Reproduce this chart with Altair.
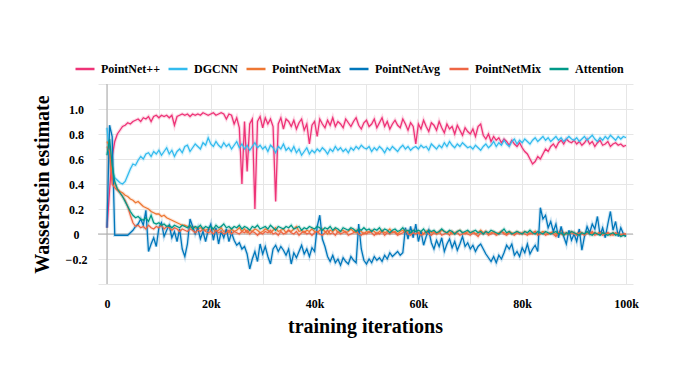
import altair as alt
import pandas as pd

# iteration grid in thousands (every 0.5k from 0 to 100k)
iters_k = [i * 0.5 for i in range(201)]

series_names = ["PointNet++", "DGCNN", "PointNetMax", "PointNetAvg", "PointNetMix", "Attention"]
series_colors = ["#EE3377", "#33BBEE", "#EE7733", "#0077BB", "#EE6644", "#009988"]

pointnetpp = [
    0.05, 0.35, 0.62, 0.74, 0.80, 0.83, 0.86, 0.87, 0.89, 0.88, 0.90, 0.91, 0.92, 0.90, 0.93, 0.92, 0.94, 0.90, 0.94, 0.95,
    0.93, 0.95, 0.94, 0.95, 0.93, 0.95, 0.87, 0.94, 0.95, 0.96, 0.95, 0.96, 0.94, 0.96, 0.95, 0.96, 0.95, 0.97, 0.96, 0.95,
    0.96, 0.97, 0.95, 0.96, 0.97, 0.96, 0.92, 0.96, 0.95, 0.88, 0.93, 0.85, 0.40, 0.90, 0.50, 0.88, 0.92, 0.20, 0.90, 0.94,
    0.85, 0.93, 0.88, 0.92, 0.86, 0.26, 0.88, 0.93, 0.84, 0.92, 0.90, 0.86, 0.91, 0.84, 0.89, 0.92, 0.83, 0.88, 0.72, 0.87,
    0.90, 0.78, 0.92, 0.88, 0.85, 0.91, 0.87, 0.93, 0.86, 0.90, 0.88, 0.85, 0.92, 0.89, 0.86, 0.90, 0.93, 0.87, 0.84, 0.89,
    0.91, 0.86, 0.88, 0.92, 0.85, 0.89, 0.93, 0.86, 0.90, 0.84, 0.88, 0.91, 0.87, 0.85, 0.92, 0.88, 0.83, 0.89, 0.86, 0.72,
    0.88, 0.84, 0.91, 0.86, 0.82, 0.89, 0.87, 0.83, 0.90, 0.85, 0.81, 0.88, 0.84, 0.86, 0.80, 0.87, 0.83, 0.79, 0.85, 0.82,
    0.80, 0.84, 0.78, 0.86, 0.88, 0.79, 0.76, 0.80, 0.74, 0.78, 0.75, 0.77, 0.73, 0.76, 0.74, 0.71, 0.75, 0.72, 0.70, 0.73,
    0.69, 0.66, 0.64, 0.60, 0.56, 0.58, 0.62, 0.60, 0.64, 0.68, 0.66, 0.70, 0.72, 0.69, 0.73, 0.75, 0.72, 0.76, 0.74, 0.73,
    0.75, 0.72, 0.74, 0.71, 0.73, 0.76, 0.72, 0.74, 0.70, 0.73, 0.75, 0.71, 0.72, 0.74, 0.70, 0.72, 0.73, 0.71, 0.72, 0.70,
    0.71,
]

dgcnn = [
    0.85, 0.62, 0.50, 0.45, 0.43, 0.41, 0.40, 0.42, 0.47, 0.52, 0.56, 0.55, 0.59, 0.62, 0.60, 0.64, 0.65, 0.62, 0.66, 0.64,
    0.67, 0.63, 0.66, 0.69, 0.64, 0.67, 0.62, 0.66, 0.68, 0.65, 0.70, 0.71, 0.66, 0.69, 0.72, 0.70, 0.68, 0.73, 0.71, 0.77,
    0.72, 0.70, 0.74, 0.71, 0.69, 0.73, 0.70, 0.72, 0.68, 0.71, 0.74, 0.69, 0.72, 0.68, 0.71, 0.67, 0.70, 0.73, 0.69, 0.71,
    0.68, 0.70, 0.66, 0.71, 0.69, 0.65, 0.70, 0.68, 0.72, 0.67, 0.69, 0.66, 0.70, 0.65, 0.68, 0.63, 0.66, 0.69, 0.64, 0.67,
    0.65, 0.68, 0.66, 0.69, 0.67, 0.64, 0.68, 0.66, 0.70, 0.67, 0.69, 0.66, 0.68, 0.65, 0.69, 0.67, 0.70, 0.68, 0.71, 0.69,
    0.68, 0.70, 0.66, 0.69, 0.67, 0.70, 0.68, 0.65, 0.69, 0.67, 0.70, 0.68, 0.66, 0.69, 0.71, 0.68, 0.70, 0.67, 0.69, 0.70,
    0.68, 0.71, 0.69, 0.70, 0.67, 0.72, 0.70, 0.68, 0.71, 0.69, 0.73, 0.70, 0.74, 0.71, 0.69, 0.72, 0.70, 0.73, 0.71, 0.69,
    0.70, 0.68, 0.71, 0.69, 0.67, 0.70, 0.72, 0.69, 0.71, 0.74, 0.70, 0.73, 0.71, 0.75, 0.72, 0.70, 0.74, 0.76, 0.72, 0.75,
    0.73, 0.76, 0.74, 0.72, 0.75, 0.77, 0.74, 0.76, 0.78, 0.75, 0.77, 0.74, 0.76, 0.78, 0.75, 0.77, 0.74, 0.76, 0.78, 0.76,
    0.75, 0.77, 0.74, 0.76, 0.78, 0.75, 0.77, 0.79, 0.76, 0.74, 0.77, 0.75, 0.78, 0.76, 0.79, 0.77, 0.75, 0.78, 0.76, 0.78,
    0.77,
]

pointnet_max = [
    0.74, 0.70, 0.45, 0.40, 0.36, 0.34, 0.33, 0.31, 0.30, 0.28, 0.27, 0.25, 0.26, 0.24, 0.22, 0.21, 0.20, 0.18, 0.17, 0.16,
    0.16, 0.14, 0.15, 0.13, 0.12, 0.11, 0.10, 0.09, 0.08, 0.07, 0.07, 0.06, 0.05, 0.06, 0.05, 0.04, 0.05, 0.04, 0.03, 0.04,
    0.03, 0.04, 0.02, 0.03, 0.05, 0.02, 0.03, 0.01, 0.04, 0.02, 0.03, 0.05, 0.02, 0.04, 0.01, 0.03, 0.02, 0.04, 0.03, 0.01,
    0.02, 0.04, 0.03, 0.01, 0.03, 0.05, 0.02, 0.03, 0.04, 0.01, 0.03, 0.02, 0.04, 0.06, 0.02, 0.03, 0.01, 0.03, 0.02, 0.04,
    0.02, 0.01, 0.03, 0.04, 0.02, 0.00, 0.03, 0.02, 0.04, 0.01, 0.02, 0.03, 0.01, 0.02, 0.04, 0.02, 0.01, 0.03, 0.02, 0.00,
    0.02, 0.01, 0.03, 0.02, 0.00, 0.02, 0.03, 0.01, 0.02, 0.04, 0.01, 0.02, 0.00, 0.02, 0.03, 0.01, 0.02, 0.01, 0.03, 0.02,
    0.01, 0.02, 0.00, 0.02, 0.03, 0.01, 0.02, 0.00, 0.01, 0.03, 0.02, 0.01, 0.02, 0.00, 0.01, 0.02, 0.03, 0.01, 0.00, 0.02,
    0.01, 0.02, 0.00, 0.01, 0.03, 0.01, 0.02, 0.00, 0.01, 0.02, 0.00, 0.01, 0.02, 0.01, 0.00, 0.02, 0.01, 0.00, 0.02, 0.01,
    0.00, 0.02, 0.01, 0.00, 0.01, 0.02, 0.00, 0.01, 0.02, 0.01, 0.00, 0.01, 0.02, 0.00, 0.01, 0.03, 0.01, 0.00, 0.01, 0.02,
    0.01, 0.00, 0.02, 0.01, 0.00, 0.01, 0.02, 0.00, 0.01, 0.00, 0.02, 0.01, 0.00, 0.01, -0.01, 0.01, 0.00, 0.01, -0.01, 0.00,
    -0.01,
]

pointnet_avg = [
    0.05, 0.87, 0.78, -0.01, -0.01, -0.01, -0.01, -0.01, -0.01, 0.01, 0.03, 0.06, 0.08, 0.12, 0.07, 0.19, -0.14, -0.08, -0.03, -0.10,
    0.05, 0.09, -0.02, 0.03, 0.07, -0.03, 0.02, -0.06, 0.04, -0.12, -0.18, -0.08, 0.12, 0.06, 0.00, 0.05, -0.04, 0.02, -0.06, 0.03,
    0.08, -0.05, 0.05, -0.08, 0.02, -0.03, 0.04, -0.06, 0.01, -0.05, -0.09, -0.07, -0.12, -0.10, -0.16, -0.28, -0.20, -0.14, -0.22, -0.08,
    -0.16, -0.10, -0.18, -0.24, -0.12, -0.09, -0.14, -0.10, -0.13, -0.17, -0.12, -0.24, -0.15, -0.19, -0.14, -0.09, -0.16, -0.12, -0.18, -0.11,
    -0.14, 0.06, 0.15, -0.04, -0.10, -0.18, -0.22, -0.17, -0.23, -0.20, -0.25, -0.19, -0.22, -0.24, -0.18, -0.21, -0.23, 0.08, -0.12, -0.21,
    -0.24, -0.20, -0.23, -0.18, -0.21, -0.19, -0.22, -0.17, -0.20, -0.15, -0.18, -0.16, -0.14, -0.17, -0.15, 0.05, -0.04, 0.06, -0.03, 0.08,
    -0.06, 0.02, -0.09, -0.02, 0.03, -0.07, -0.12, -0.05, -0.10, -0.03, -0.14, -0.08, -0.04, -0.11, -0.06, -0.13, -0.08, -0.02, -0.10, -0.07,
    -0.12, -0.09, -0.14, -0.10, -0.08, -0.12, -0.16, -0.19, -0.22, -0.18, -0.23, -0.17, -0.20, -0.15, -0.09, -0.12, -0.08, -0.17, -0.14, -0.18,
    -0.11, -0.15, -0.08, -0.16, -0.12, -0.09, -0.14, 0.21, 0.12, 0.15, 0.05, 0.10, 0.02, 0.08, -0.03, 0.06, -0.02, -0.08, 0.03, -0.05,
    0.00, -0.06, 0.04, -0.13, -0.02, 0.06, 0.01, 0.08, 0.04, 0.14, -0.01, 0.05, -0.03, 0.08, 0.18, 0.03, 0.10, -0.02, 0.05, 0.00,
    -0.02,
]

pointnet_mix = [
    0.70, 0.66, 0.40, 0.37, 0.35, 0.33, 0.30, 0.27, 0.22, 0.15, 0.09, 0.06, 0.07, 0.05, 0.06, 0.04, 0.07, 0.05, 0.04, 0.06,
    0.05, 0.07, 0.04, 0.06, 0.05, 0.03, 0.05, 0.04, 0.02, 0.04, 0.03, 0.02, 0.04, 0.03, 0.01, 0.03, 0.02, 0.04, 0.02, 0.01,
    0.02, 0.00, 0.03, 0.01, 0.02, 0.00, 0.01, 0.03, 0.00, 0.02, 0.01, 0.00, 0.02, 0.01, 0.03, 0.00, 0.02, 0.01, -0.01, 0.01,
    0.00, 0.02, 0.01, 0.03, 0.00, 0.01, -0.01, 0.02, 0.00, 0.01, 0.03, 0.01, 0.00, 0.02, -0.01, 0.01, 0.02, 0.00, 0.01, -0.01,
    0.01, 0.02, 0.00, -0.01, 0.01, 0.03, 0.00, 0.01, -0.01, 0.02, 0.00, 0.01, 0.02, -0.01, 0.00, 0.01, 0.03, 0.00, -0.01, 0.01,
    0.00, 0.02, 0.01, -0.01, 0.01, 0.00, 0.02, -0.01, 0.01, 0.00, 0.02, 0.01, -0.01, 0.00, 0.01, 0.03, 0.00, -0.01, 0.01, 0.00,
    0.01, -0.01, 0.00, 0.02, 0.00, -0.01, 0.01, 0.00, 0.02, -0.01, 0.00, 0.01, -0.01, 0.02, 0.00, 0.01, -0.01, 0.00, 0.01, 0.00,
    -0.01, 0.01, 0.00, -0.02, 0.01, 0.00, 0.02, -0.01, 0.00, 0.01, -0.01, 0.00, 0.02, 0.00, -0.01, 0.01, 0.00, -0.01, 0.01, 0.00,
    0.01, 0.00, -0.01, 0.01, 0.00, 0.02, -0.01, 0.00, 0.01, -0.01, 0.00, 0.01, 0.00, -0.02, 0.01, 0.00, -0.01, 0.01, 0.00, 0.01,
    0.00, -0.01, 0.01, 0.00, -0.01, 0.01, 0.00, 0.02, -0.01, 0.00, 0.01, -0.01, 0.00, 0.01, 0.00, -0.01, 0.01, 0.00, -0.01, 0.00,
    0.00,
]

attention = [
    0.63, 0.76, 0.55, 0.42, 0.36, 0.33, 0.30, 0.26, 0.22, 0.18, 0.15, 0.13, 0.14, 0.12, 0.11, 0.13, 0.10, 0.15, 0.09, 0.08,
    0.09, 0.07, 0.08, 0.06, 0.07, 0.05, 0.07, 0.06, 0.05, 0.07, 0.06, 0.05, 0.07, 0.04, 0.06, 0.05, 0.07, 0.04, 0.06, 0.05,
    0.06, 0.04, 0.07, 0.05, 0.06, 0.08, 0.05, 0.06, 0.04, 0.06, 0.05, 0.07, 0.04, 0.06, 0.05, 0.03, 0.06, 0.05, 0.07, 0.04,
    0.05, 0.06, 0.04, 0.07, 0.05, 0.03, 0.06, 0.05, 0.04, 0.06, 0.05, 0.07, 0.04, 0.05, 0.06, 0.03, 0.05, 0.04, 0.06, 0.05,
    0.04, 0.06, 0.05, 0.03, 0.05, 0.04, 0.06, 0.03, 0.05, 0.04, 0.02, 0.05, 0.04, 0.03, 0.05, 0.04, 0.02, 0.04, 0.03, 0.05,
    0.03, 0.04, 0.02, 0.04, 0.03, 0.05, 0.02, 0.04, 0.03, 0.01, 0.03, 0.04, 0.02, 0.03, 0.05, 0.02, 0.03, 0.01, 0.03, 0.02,
    0.03, 0.02, 0.04, 0.01, 0.03, 0.02, 0.03, 0.01, 0.02, 0.04, 0.02, 0.01, 0.03, 0.02, 0.00, 0.02, 0.03, 0.01, 0.02, 0.03,
    0.01, 0.02, 0.03, 0.01, 0.02, 0.00, 0.02, 0.01, 0.03, 0.02, 0.01, 0.00, 0.02, 0.04, 0.01, 0.02, 0.00, 0.01, 0.02, 0.01,
    0.00, 0.02, 0.01, 0.03, 0.01, 0.00, 0.02, 0.01, 0.00, 0.02, 0.01, 0.00, 0.01, 0.02, 0.00, 0.01, -0.01, 0.01, 0.00, 0.02,
    0.01, 0.00, -0.01, 0.01, 0.00, 0.02, 0.00, -0.01, 0.01, 0.00, -0.01, 0.01, 0.00, -0.01, 0.00, 0.01, -0.01, 0.00, -0.02, -0.01,
    -0.02,
]

x_tick_values = [0, 10000, 20000, 30000, 40000, 50000, 60000, 70000, 80000, 90000, 100000]
y_tick_values = [-0.4, -0.2, 0, 0.2, 0.4, 0.6, 0.8, 1.0, 1.2]

all_series = [pointnetpp, dgcnn, pointnet_max, pointnet_avg, pointnet_mix, attention]
rows = []
for order, (name, vals) in enumerate(zip(series_names, all_series)):
    for k, v in zip(iters_k, vals):
        rows.append({"iteration": k * 1000, "series": name, "value": v, "order": order})
df = pd.DataFrame(rows)

FONT = "Liberation Serif"

x_scale = alt.Scale(domain=[-1730, 101350], nice=False, zero=False)
y_scale = alt.Scale(domain=[-0.4, 1.2], nice=False, zero=False)

x_axis = alt.Axis(
    values=x_tick_values,
    labelExpr="datum.value % 20000 == 0 ? (datum.value == 0 ? '0' : (datum.value / 1000) + 'k') : ''",
    title="training iterations",
    titleFont=FONT,
    titleFontSize=20,
    titleFontWeight="bold",
    titleColor="#000000",
    titleBaseline="alphabetic",
    titleX=267,
    titleY=48,
    labelFont=FONT,
    labelFontSize=12,
    labelFontWeight="bold",
    labelColor="#000000",
    labelPadding=14,
    ticks=False,
    domain=False,
    grid=True,
    gridColor="#e6e6e6",
    labelFlush=False,
    labelOverlap=False,
)

y_axis = alt.Axis(
    values=y_tick_values,
    labelExpr="(datum.value < -0.3 || datum.value > 1.1) ? '' : (datum.value == 0 ? '0' : format(datum.value, '.1f'))",
    title="Wasserstein estimate",
    titleFont=FONT,
    titleFontSize=20,
    titleFontWeight="bold",
    titleColor="#000000",
    titleBaseline="alphabetic",
    titleX=-50,
    titleY=100,
    titleAngle=270,
    labelFont=FONT,
    labelFontSize=12,
    labelFontWeight="bold",
    labelColor="#000000",
    labelAlign="center",
    labelPadding=22,
    ticks=False,
    domain=False,
    grid=True,
    gridColor="#e6e6e6",
    labelFlush=False,
    labelOverlap=False,
)

color = alt.Color(
    "series:N",
    scale=alt.Scale(domain=series_names, range=series_colors),
    sort=series_names,
    legend=alt.Legend(
        title=None,
        orient="none",
        direction="horizontal",
        legendX=-24,
        legendY=-26,
        symbolType="stroke",
        symbolSize=361,
        symbolStrokeWidth=2.5,
        symbolOpacity=1,
        labelFont=FONT,
        labelFontSize=12,
        labelFontWeight="bold",
        labelColor="#000000",
        labelOffset=5,
        columnPadding=3,
        padding=0,
    ),
)

base = alt.Chart(df)

zero_df = pd.DataFrame({"iteration": [0], "value": [0]})
zero_y = alt.Chart(zero_df).mark_rule(color="#aaaaaa", strokeWidth=1).encode(
    y=alt.Y("value:Q", scale=y_scale, axis=y_axis)
)
zero_x = alt.Chart(zero_df).mark_rule(color="#aaaaaa", strokeWidth=1).encode(
    x=alt.X("iteration:Q", scale=x_scale, axis=x_axis)
)

halo = base.mark_line(strokeWidth=3.5, opacity=0.18, clip=True).encode(
    x=alt.X("iteration:Q", scale=x_scale, axis=x_axis),
    y=alt.Y("value:Q", scale=y_scale, axis=y_axis),
    color=color,
    order="iteration:Q",
)

lines = base.mark_line(strokeWidth=1.3, clip=True).encode(
    x=alt.X("iteration:Q", scale=x_scale, axis=x_axis),
    y=alt.Y("value:Q", scale=y_scale, axis=y_axis),
    color=color,
    order="iteration:Q",
)

chart = (
    alt.layer(zero_y, zero_x, halo, lines)
    .properties(
        width=535,
        height=200,
        background="white",
        autosize=alt.AutoSizeParams(type="none"),
        padding={"left": 90, "top": 76, "right": 20, "bottom": 80},
    )
    .configure_view(strokeWidth=0)
)

chart.save("out.html", embed_options={"renderer": "svg", "actions": False})
